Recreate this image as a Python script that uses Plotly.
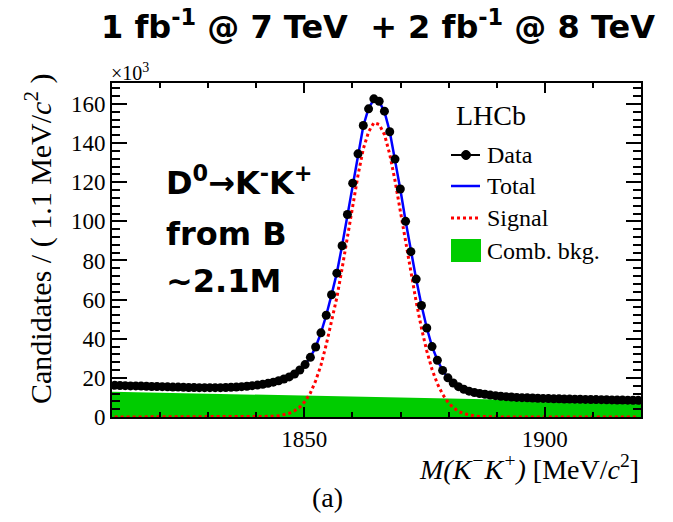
import plotly.graph_objects as go

# Binning of the K-K+ invariant mass histogram (MeV/c^2)
MASS_LO, MASS_HI, BIN_W = 1810.0, 1920.0, 1.1
N_BINS = 100
mass = [round(MASS_LO + BIN_W * (i + 0.5), 2) for i in range(N_BINS)]

# Candidates per bin, in units of 10^3
data_counts = [
    16.2, 16.1, 16.0, 15.9, 15.9, 15.8, 15.7, 15.6, 15.6, 15.5,
    15.4, 15.3, 15.3, 15.2, 15.1, 15.1, 15.0, 15.0, 15.0, 15.0,
    15.0, 15.1, 15.2, 15.3, 15.5, 15.7, 16.0, 16.3, 16.7, 17.2,
    17.8, 18.5, 19.4, 20.5, 22.0, 24.0, 26.8, 30.5, 35.8, 43.0,
    52.0, 62.5, 73.5, 87.5, 103.5, 119.5, 134.5, 149.0, 157.5, 162.6,
    161.4, 156.3, 145.8, 131.8, 116.5, 100.0, 84.5, 70.5, 57.0, 45.5,
    36.0, 29.0, 23.8, 20.0, 17.4, 15.5, 14.2, 13.2, 12.5, 12.0,
    11.6, 11.2, 10.9, 10.6, 10.4, 10.2, 10.0, 9.9, 9.8, 9.7,
    9.6, 9.5, 9.4, 9.35, 9.3, 9.2, 9.15, 9.1, 9.05, 9.0,
    8.95, 8.9, 8.85, 8.8, 8.75, 8.7, 8.65, 8.6, 8.55, 8.5,
]

# Total fit model evaluated at the bin centres
fit_total = [
    16.2, 16.1, 16.0, 15.9, 15.85, 15.8, 15.7, 15.65, 15.6, 15.5,
    15.4, 15.35, 15.3, 15.2, 15.15, 15.1, 15.05, 15.0, 15.0, 15.0,
    15.0, 15.1, 15.2, 15.3, 15.5, 15.7, 16.0, 16.3, 16.7, 17.2,
    17.8, 18.5, 19.4, 20.5, 22.0, 24.0, 26.8, 30.5, 35.8, 43.0,
    52.0, 62.4, 73.6, 87.6, 103.4, 119.3, 134.4, 148.6, 157.8, 162.3,
    161.3, 156.1, 145.9, 132.0, 116.4, 100.2, 84.4, 70.4, 57.1, 45.6,
    36.0, 29.1, 23.8, 20.0, 17.4, 15.5, 14.2, 13.2, 12.5, 12.0,
    11.6, 11.2, 10.9, 10.6, 10.4, 10.2, 10.0, 9.9, 9.8, 9.7,
    9.6, 9.5, 9.4, 9.35, 9.3, 9.2, 9.15, 9.1, 9.05, 9.0,
    8.95, 8.9, 8.85, 8.8, 8.75, 8.7, 8.65, 8.6, 8.55, 8.5,
]

# D0 -> K-K+ signal component
signal_counts = [
    0, 0, 0, 0, 0, 0, 0, 0, 0, 0,
    0, 0, 0, 0, 0, 0, 0, 0, 0, 0,
    0, 0, 0, 0, 0, 0, 0, 0, 0.08, 0.17,
    0.33, 0.6, 1.1, 1.9, 3.2, 5.1, 8.0, 12.3, 18.5, 26.5,
    37.0, 48.5, 61.0, 76.0, 92.0, 108.5, 123.5, 137.0, 145.7, 150.4,
    149.5, 144.4, 134.3, 120.8, 105.5, 89.2, 73.3, 58.9, 45.4, 33.8,
    24.3, 17.0, 11.6, 7.6, 4.8, 2.9, 1.7, 1.0, 0.55, 0.3,
    0.15, 0.07, 0.03, 0, 0, 0, 0, 0, 0, 0,
    0, 0, 0, 0, 0, 0, 0, 0, 0, 0,
    0, 0, 0, 0, 0, 0, 0, 0, 0, 0,
]

# Combinatorial background (linear)
bkg_mass = [1810.0, 1920.0]
bkg_counts = [12.9, 7.5]

Y_MAX = 170.7

# Canvas geometry (pixels)
W, H = 673, 522
L, R, T, B = 112, 32, 83, 105
PW, PH = W - L - R, H - T - B


def px(x):
    return (x - L) / PW


def py(y):
    return (H - B - y) / PH


SERIF = "Liberation Serif"
SANS_BOLD = "DejaVu Sans"

fig = go.Figure()

fig.add_trace(go.Scatter(
    x=bkg_mass, y=bkg_counts, mode="lines", fill="tozeroy",
    fillcolor="#00cc00", line=dict(width=0, color="#00cc00"),
    hoverinfo="skip",
))
fig.add_trace(go.Scatter(
    x=mass, y=signal_counts, mode="lines",
    line=dict(color="#ff0000", width=3, dash="dot"),
))
fig.add_trace(go.Scatter(
    x=mass, y=fit_total, mode="lines",
    line=dict(color="#0000ff", width=2.5),
))
fig.add_trace(go.Scatter(
    x=mass, y=data_counts, mode="markers",
    marker=dict(color="black", size=9, symbol="circle"),
))

axis_common = dict(
    showline=True, linecolor="black", linewidth=2, mirror="allticks",
    ticks="inside", tickcolor="black", tickwidth=1.5,
    showgrid=False, zeroline=False,
    tickfont=dict(family=SERIF, size=23, color="black"),
)

fig.update_xaxes(
    range=[MASS_LO, MASS_HI], tick0=1800, dtick=50, ticklen=10,
    minor=dict(dtick=10, ticklen=5, ticks="inside", tickcolor="black", tickwidth=1.5),
    **axis_common,
)
fig.update_yaxes(
    range=[0, Y_MAX], tick0=0, dtick=20, ticklen=15,
    minor=dict(dtick=4, ticklen=8, ticks="inside", tickcolor="black", tickwidth=1.5),
    **axis_common,
)

shapes = []
# Legend symbols
shapes.append(dict(type="line", xref="paper", yref="paper",
                   x0=px(451), x1=px(480), y0=py(155), y1=py(155),
                   line=dict(color="black", width=2)))
shapes.append(dict(type="circle", xref="paper", yref="paper",
                   x0=px(461.5), x1=px(470.5), y0=py(159.5), y1=py(150.5),
                   fillcolor="black", line=dict(color="black", width=1)))
shapes.append(dict(type="line", xref="paper", yref="paper",
                   x0=px(451), x1=px(480), y0=py(186), y1=py(186),
                   line=dict(color="#0000ff", width=2.5)))
shapes.append(dict(type="line", xref="paper", yref="paper",
                   x0=px(451), x1=px(480), y0=py(218), y1=py(218),
                   line=dict(color="#ff0000", width=3, dash="dot")))
shapes.append(dict(type="rect", xref="paper", yref="paper",
                   x0=px(451), x1=px(481), y0=py(262), y1=py(239),
                   fillcolor="#00cc00", line=dict(width=0)))

annotations = []


def label(text, x, y, size, family=SERIF, xanchor="left", yanchor="middle",
          angle=0, color="black"):
    annotations.append(dict(
        text=text, x=px(x), y=py(y), xref="paper", yref="paper",
        xanchor=xanchor, yanchor=yanchor, showarrow=False, textangle=angle,
        font=dict(family=family, size=size, color=color),
    ))


label("LHCb", 454, 116, 28)
label("Data", 485, 155, 24)
label("Total", 485, 186, 24)
label("Signal", 485, 218, 24)
label("Comb. bkg.", 485, 251, 24)

label("×10<sup>3</sup>", 109, 72, 20)
label("<i>M(K<sup>−</sup>K<sup>+</sup>)</i> [MeV/<i>c</i><sup>2</sup>]",
      641, 467, 28, xanchor="right")
label("Candidates / ( 1.1 MeV/<i>c</i><sup>2</sup> )", 39, 72, 30,
      xanchor="center", yanchor="top", angle=-90)
label("(a)", 327, 497, 28, xanchor="center")

label("<b>1 fb<sup>-1</sup> @ 7 TeV  + 2 fb<sup>-1</sup> @ 8 TeV</b>",
      378, 25, 32, family=SANS_BOLD, xanchor="center")
label("<b>D<sup>0</sup>→K<sup>-</sup>K<sup>+</sup></b>", 164, 181, 32, family=SANS_BOLD)
label("<b>from B</b>", 164, 234, 32, family=SANS_BOLD)
label("<b>~2.1M</b>", 164, 281, 32, family=SANS_BOLD)

fig.update_layout(
    width=W, height=H,
    margin=dict(l=L, r=R, t=T, b=B),
    paper_bgcolor="white", plot_bgcolor="white",
    showlegend=False,
    shapes=shapes, annotations=annotations,
)

fig.write_html("out.html")
